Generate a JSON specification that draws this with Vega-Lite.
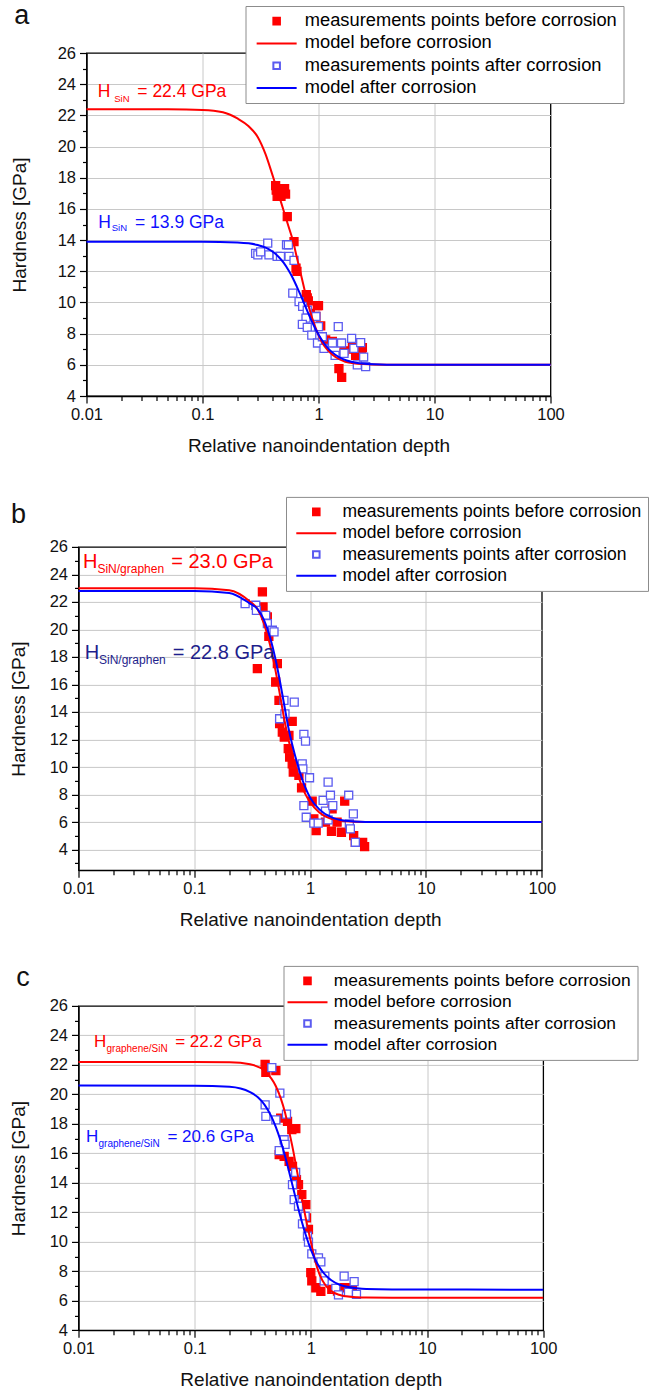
{
"$schema": "https://vega.github.io/schema/vega-lite/v6.json",
"padding": {"left": 7.5, "top": 0, "right": 0, "bottom": 0},
"background": "white",
"config": {
  "font": "Liberation Sans",
  "view": {"stroke": "#000", "strokeWidth": 1.3},
  "axis": {"domainColor": "#000", "domainWidth": 1.3, "tickColor": "#000", "tickWidth": 1.2, "labelColor": "#111", "titleColor": "#111", "labelFontSize": 16.5, "titleFontSize": 19, "titleFontWeight": "normal", "labelFlush": false, "labelOverlap": false, "gridColor": "#c8c8c8", "gridWidth": 1},
  "legend": {"labelFontSize": 17.5, "labelColor": "#000", "labelLimit": 500, "symbolSize": 256, "symbolStrokeWidth": 2, "symbolOpacity": 1, "padding": 6, "rowPadding": 3.3, "strokeColor": "#8c8c8c", "fillColor": "#ffffff", "cornerRadius": 0},
  "title": {"fontSize": 27, "fontWeight": "normal", "anchor": "start", "frame": "bounds", "color": "#111"}
},
"datasets": {
  "apts": [
    {"s":"pb","x":0.427,"y":17.5},{"s":"pb","x":0.432,"y":17.2},{"s":"pb","x":0.44,"y":16.8},{"s":"pb","x":0.475,"y":16.8},{"s":"pb","x":0.51,"y":17.3},{"s":"pb","x":0.52,"y":16.95},{"s":"pb","x":0.538,"y":15.5},{"s":"pb","x":0.615,"y":13.9},{"s":"pb","x":0.64,"y":12.2},{"s":"pb","x":0.652,"y":12.0},{"s":"pb","x":0.785,"y":10.5},{"s":"pb","x":0.8,"y":10.3},{"s":"pb","x":0.817,"y":10.1},{"s":"pb","x":0.977,"y":9.8},{"s":"pb","x":1.0,"y":9.8},{"s":"pb","x":0.85,"y":9.3},{"s":"pb","x":0.95,"y":9.1},{"s":"pb","x":1.045,"y":8.5},{"s":"pb","x":1.153,"y":7.6},{"s":"pb","x":1.316,"y":7.5},{"s":"pb","x":1.5,"y":5.75},{"s":"pb","x":1.584,"y":5.2},{"s":"pb","x":1.66,"y":6.9},{"s":"pb","x":1.96,"y":7.3},{"s":"pb","x":2.0,"y":7.0},{"s":"pb","x":2.09,"y":6.6},{"s":"pb","x":2.25,"y":6.9},{"s":"pb","x":2.39,"y":7.1},{"s":"pb","x":2.35,"y":6.8},
    {"s":"pa","x":0.287,"y":13.15},{"s":"pa","x":0.3,"y":13.05},{"s":"pa","x":0.317,"y":13.25},{"s":"pa","x":0.365,"y":13.8},{"s":"pa","x":0.374,"y":13.05},{"s":"pa","x":0.44,"y":12.95},{"s":"pa","x":0.47,"y":12.95},{"s":"pa","x":0.53,"y":13.7},{"s":"pa","x":0.55,"y":13.7},{"s":"pa","x":0.557,"y":12.95},{"s":"pa","x":0.615,"y":12.7},{"s":"pa","x":0.6,"y":10.6},{"s":"pa","x":0.68,"y":10.05},{"s":"pa","x":0.73,"y":9.75},{"s":"pa","x":0.8,"y":9.5},{"s":"pa","x":0.78,"y":9.0},{"s":"pa","x":0.726,"y":8.6},{"s":"pa","x":0.8,"y":8.4},{"s":"pa","x":0.95,"y":9.1},{"s":"pa","x":0.875,"y":7.9},{"s":"pa","x":1.0,"y":8.45},{"s":"pa","x":0.98,"y":7.4},{"s":"pa","x":1.08,"y":7.8},{"s":"pa","x":1.115,"y":7.06},{"s":"pa","x":1.32,"y":7.4},{"s":"pa","x":1.39,"y":6.6},{"s":"pa","x":1.48,"y":8.45},{"s":"pa","x":1.58,"y":7.4},{"s":"pa","x":1.66,"y":6.74},{"s":"pa","x":1.93,"y":7.7},{"s":"pa","x":2.02,"y":7.06},{"s":"pa","x":2.16,"y":6.0},{"s":"pa","x":2.31,"y":7.42},{"s":"pa","x":2.45,"y":6.5},{"s":"pa","x":2.55,"y":5.88}
  ],
  "amod": [
    {"s":"mb","x":0.01,"y":22.4},{"s":"mb","x":0.05,"y":22.39},{"s":"mb","x":0.1,"y":22.35},{"s":"mb","x":0.15,"y":22.2},{"s":"mb","x":0.2,"y":21.8},{"s":"mb","x":0.25,"y":21.3},{"s":"mb","x":0.3,"y":20.6},{"s":"mb","x":0.35,"y":19.5},{"s":"mb","x":0.4,"y":18.2},{"s":"mb","x":0.45,"y":17.0},{"s":"mb","x":0.5,"y":15.9},{"s":"mb","x":0.55,"y":14.9},{"s":"mb","x":0.6,"y":14.0},{"s":"mb","x":0.65,"y":12.9},{"s":"mb","x":0.7,"y":11.9},{"s":"mb","x":0.8,"y":10.1},{"s":"mb","x":0.9,"y":8.8},{"s":"mb","x":1.0,"y":7.9},{"s":"mb","x":1.1,"y":7.3},{"s":"mb","x":1.2,"y":6.95},{"s":"mb","x":1.4,"y":6.5},{"s":"mb","x":1.7,"y":6.2},{"s":"mb","x":2,"y":6.1},{"s":"mb","x":3,"y":6.02},{"s":"mb","x":5,"y":6.0},{"s":"mb","x":100,"y":6.0},
    {"s":"ma","x":0.01,"y":13.9},{"s":"ma","x":0.1,"y":13.9},{"s":"ma","x":0.2,"y":13.85},{"s":"ma","x":0.25,"y":13.79},{"s":"ma","x":0.3,"y":13.68},{"s":"ma","x":0.35,"y":13.52},{"s":"ma","x":0.4,"y":13.27},{"s":"ma","x":0.45,"y":12.95},{"s":"ma","x":0.5,"y":12.55},{"s":"ma","x":0.55,"y":12.08},{"s":"ma","x":0.6,"y":11.57},{"s":"ma","x":0.65,"y":11.02},{"s":"ma","x":0.7,"y":10.48},{"s":"ma","x":0.75,"y":9.95},{"s":"ma","x":0.8,"y":9.46},{"s":"ma","x":0.9,"y":8.6},{"s":"ma","x":1.0,"y":7.94},{"s":"ma","x":1.1,"y":7.45},{"s":"ma","x":1.2,"y":7.09},{"s":"ma","x":1.3,"y":6.83},{"s":"ma","x":1.5,"y":6.5},{"s":"ma","x":1.75,"y":6.28},{"s":"ma","x":2,"y":6.17},{"s":"ma","x":3,"y":6.04},{"s":"ma","x":5,"y":6.0},{"s":"ma","x":100,"y":6.0}
  ],
  "aann": [
    {"k":"m","c":"r","x":0.01249,"y":23.19,"t":"H"},{"k":"s","c":"r","x":0.01734,"y":22.87,"t":"SiN"},{"k":"m","c":"r","x":0.02741,"y":23.19,"t":"= 22.4 GPa"},
    {"k":"m","c":"b","x":0.01264,"y":14.75,"t":"H"},{"k":"s","c":"b","x":0.01649,"y":14.6,"t":"SiN"},{"k":"m","c":"b","x":0.02618,"y":14.75,"t":"= 13.9 GPa"}
  ],
  "bpts": [
    {"s":"pb","x":0.387,"y":22.73},{"s":"pb","x":0.392,"y":21.64},{"s":"pb","x":0.427,"y":20.91},{"s":"pb","x":0.35,"y":17.15},{"s":"pb","x":0.44,"y":19.5},{"s":"pb","x":0.521,"y":17.51},{"s":"pb","x":0.504,"y":16.18},{"s":"pb","x":0.538,"y":14.84},{"s":"pb","x":0.545,"y":13.15},{"s":"pb","x":0.575,"y":12.54},{"s":"pb","x":0.598,"y":12.18},{"s":"pb","x":0.656,"y":12.3},{"s":"pb","x":0.7,"y":13.32},{"s":"pb","x":0.647,"y":11.33},{"s":"pb","x":0.665,"y":10.72},{"s":"pb","x":0.7,"y":10.23},{"s":"pb","x":0.715,"y":9.63},{"s":"pb","x":0.8,"y":9.39},{"s":"pb","x":0.843,"y":8.49},{"s":"pb","x":1.041,"y":7.52},{"s":"pb","x":1.076,"y":6.23},{"s":"pb","x":1.127,"y":5.38},{"s":"pb","x":1.356,"y":5.99},{"s":"pb","x":1.527,"y":5.33},{"s":"pb","x":1.708,"y":5.99},{"s":"pb","x":1.861,"y":5.26},{"s":"pb","x":1.988,"y":7.52},{"s":"pb","x":2.376,"y":5.02},{"s":"pb","x":2.455,"y":4.53},{"s":"pb","x":2.84,"y":4.53},{"s":"pb","x":2.953,"y":4.22},{"s":"pb","x":1.547,"y":6.96},
    {"s":"pa","x":0.2745,"y":21.88},{"s":"pa","x":0.339,"y":21.76},{"s":"pa","x":0.3435,"y":21.39},{"s":"pa","x":0.413,"y":21.03},{"s":"pa","x":0.427,"y":20.42},{"s":"pa","x":0.4717,"y":19.94},{"s":"pa","x":0.4875,"y":19.82},{"s":"pa","x":0.545,"y":13.51},{"s":"pa","x":0.594,"y":14.84},{"s":"pa","x":0.606,"y":13.87},{"s":"pa","x":0.729,"y":14.72},{"s":"pa","x":0.883,"y":12.37},{"s":"pa","x":0.912,"y":11.88},{"s":"pa","x":0.854,"y":10.23},{"s":"pa","x":0.865,"y":9.87},{"s":"pa","x":0.988,"y":9.22},{"s":"pa","x":0.883,"y":7.2},{"s":"pa","x":0.925,"y":6.35},{"s":"pa","x":1.076,"y":5.92},{"s":"pa","x":1.173,"y":5.92},{"s":"pa","x":1.294,"y":7.57},{"s":"pa","x":1.356,"y":6.79},{"s":"pa","x":1.429,"y":8.9},{"s":"pa","x":1.497,"y":7.95},{"s":"pa","x":1.568,"y":7.2},{"s":"pa","x":1.429,"y":6.16},{"s":"pa","x":2.152,"y":7.95},{"s":"pa","x":2.18,"y":5.87},{"s":"pa","x":2.224,"y":5.5},{"s":"pa","x":2.36,"y":6.6},{"s":"pa","x":2.455,"y":4.53}
  ],
  "bmod": [
    {"s":"mb","x":0.01,"y":23.0},{"s":"mb","x":0.1,"y":22.99},{"s":"mb","x":0.2,"y":22.85},{"s":"mb","x":0.3,"y":22.05},{"s":"mb","x":0.35,"y":21.5},{"s":"mb","x":0.4,"y":20.4},{"s":"mb","x":0.45,"y":18.9},{"s":"mb","x":0.5,"y":17.1},{"s":"mb","x":0.55,"y":15.2},{"s":"mb","x":0.6,"y":13.4},{"s":"mb","x":0.65,"y":12.0},{"s":"mb","x":0.7,"y":10.9},{"s":"mb","x":0.8,"y":9.2},{"s":"mb","x":0.9,"y":8.1},{"s":"mb","x":1.0,"y":7.45},{"s":"mb","x":1.2,"y":6.7},{"s":"mb","x":1.5,"y":6.25},{"s":"mb","x":2,"y":6.06},{"s":"mb","x":3,"y":6.01},{"s":"mb","x":5,"y":6.0},{"s":"mb","x":100,"y":6.0},
    {"s":"ma","x":0.01,"y":22.8},{"s":"ma","x":0.1,"y":22.79},{"s":"ma","x":0.2,"y":22.65},{"s":"ma","x":0.3,"y":21.9},{"s":"ma","x":0.35,"y":21.5},{"s":"ma","x":0.4,"y":20.68},{"s":"ma","x":0.45,"y":19.44},{"s":"ma","x":0.5,"y":17.9},{"s":"ma","x":0.55,"y":16.18},{"s":"ma","x":0.6,"y":14.42},{"s":"ma","x":0.65,"y":12.84},{"s":"ma","x":0.7,"y":11.63},{"s":"ma","x":0.8,"y":9.86},{"s":"ma","x":0.9,"y":8.59},{"s":"ma","x":1.0,"y":7.77},{"s":"ma","x":1.2,"y":6.92},{"s":"ma","x":1.5,"y":6.37},{"s":"ma","x":2,"y":6.1},{"s":"ma","x":3,"y":6.01},{"s":"ma","x":5,"y":6.0},{"s":"ma","x":100,"y":6.0}
  ],
  "bann": [
    {"k":"m","c":"r","x":0.01095,"y":24.5,"t":"H"},{"k":"s","c":"r","x":0.01457,"y":24.09,"t":"SiN/graphen"},{"k":"m","c":"r","x":0.0631,"y":24.5,"t":"= 23.0 GPa"},
    {"k":"m","c":"n","x":0.01133,"y":17.88,"t":"H"},{"k":"s","c":"n","x":0.01504,"y":17.5,"t":"SiN/graphen"},{"k":"m","c":"n","x":0.0651,"y":17.88,"t":"= 22.8 GPa"}
  ],
  "cpts": [
    {"s":"pb","x":0.404,"y":22.04},{"s":"pb","x":0.41,"y":21.5},{"s":"pb","x":0.5,"y":21.61},{"s":"pb","x":0.55,"y":18.39},{"s":"pb","x":0.63,"y":18.16},{"s":"pb","x":0.686,"y":17.6},{"s":"pb","x":0.7425,"y":17.67},{"s":"pb","x":0.534,"y":15.91},{"s":"pb","x":0.589,"y":15.79},{"s":"pb","x":0.65,"y":15.45},{"s":"pb","x":0.695,"y":15.12},{"s":"pb","x":0.752,"y":14.21},{"s":"pb","x":0.783,"y":13.88},{"s":"pb","x":0.836,"y":13.2},{"s":"pb","x":0.905,"y":12.52},{"s":"pb","x":0.917,"y":11.62},{"s":"pb","x":0.954,"y":10.83},{"s":"pb","x":0.999,"y":7.9},{"s":"pb","x":1.019,"y":7.34},{"s":"pb","x":1.104,"y":6.88},{"s":"pb","x":1.219,"y":6.63},{"s":"pb","x":1.515,"y":6.77},{"s":"pb","x":1.695,"y":6.66},{"s":"pb","x":1.935,"y":6.88},{"s":"pb","x":2.28,"y":6.88},
    {"s":"pa","x":0.4615,"y":21.81},{"s":"pa","x":0.404,"y":19.29},{"s":"pa","x":0.41,"y":18.5},{"s":"pa","x":0.5,"y":18.27},{"s":"pa","x":0.541,"y":20.08},{"s":"pa","x":0.617,"y":18.66},{"s":"pa","x":0.589,"y":16.92},{"s":"pa","x":0.6,"y":16.6},{"s":"pa","x":0.534,"y":16.18},{"s":"pa","x":0.74,"y":14.7},{"s":"pa","x":0.695,"y":13.88},{"s":"pa","x":0.7183,"y":12.86},{"s":"pa","x":0.7826,"y":12.41},{"s":"pa","x":0.893,"y":11.73},{"s":"pa","x":0.847,"y":11.21},{"s":"pa","x":0.935,"y":10.38},{"s":"pa","x":0.954,"y":9.97},{"s":"pa","x":1.019,"y":9.18},{"s":"pa","x":1.163,"y":8.91},{"s":"pa","x":1.219,"y":8.64},{"s":"pa","x":1.319,"y":7.67},{"s":"pa","x":1.302,"y":7.34},{"s":"pa","x":1.64,"y":6.84},{"s":"pa","x":1.729,"y":6.39},{"s":"pa","x":1.935,"y":7.67},{"s":"pa","x":2.108,"y":6.57},{"s":"pa","x":2.358,"y":7.29},{"s":"pa","x":2.47,"y":6.43}
  ],
  "cmod": [
    {"s":"mb","x":0.01,"y":22.2},{"s":"mb","x":0.1,"y":22.2},{"s":"mb","x":0.2,"y":22.18},{"s":"mb","x":0.3,"y":22.04},{"s":"mb","x":0.4,"y":21.59},{"s":"mb","x":0.5,"y":20.55},{"s":"mb","x":0.55,"y":19.74},{"s":"mb","x":0.6,"y":18.75},{"s":"mb","x":0.65,"y":17.5},{"s":"mb","x":0.7,"y":16.3},{"s":"mb","x":0.75,"y":15.05},{"s":"mb","x":0.8,"y":13.84},{"s":"mb","x":0.85,"y":12.69},{"s":"mb","x":0.9,"y":11.67},{"s":"mb","x":1.0,"y":10.0},{"s":"mb","x":1.1,"y":8.6},{"s":"mb","x":1.2,"y":7.7},{"s":"mb","x":1.35,"y":7.0},{"s":"mb","x":1.5,"y":6.65},{"s":"mb","x":1.75,"y":6.4},{"s":"mb","x":2,"y":6.3},{"s":"mb","x":2.5,"y":6.23},{"s":"mb","x":3,"y":6.21},{"s":"mb","x":5,"y":6.2},{"s":"mb","x":100,"y":6.2},
    {"s":"ma","x":0.01,"y":20.6},{"s":"ma","x":0.1,"y":20.59},{"s":"ma","x":0.2,"y":20.51},{"s":"ma","x":0.3,"y":20.15},{"s":"ma","x":0.35,"y":19.8},{"s":"ma","x":0.4,"y":19.29},{"s":"ma","x":0.45,"y":18.61},{"s":"ma","x":0.5,"y":17.78},{"s":"ma","x":0.55,"y":16.83},{"s":"ma","x":0.6,"y":15.8},{"s":"ma","x":0.65,"y":14.75},{"s":"ma","x":0.7,"y":13.73},{"s":"ma","x":0.8,"y":11.92},{"s":"ma","x":0.9,"y":10.51},{"s":"ma","x":1.0,"y":9.47},{"s":"ma","x":1.1,"y":8.73},{"s":"ma","x":1.2,"y":8.21},{"s":"ma","x":1.35,"y":7.7},{"s":"ma","x":1.5,"y":7.39},{"s":"ma","x":1.75,"y":7.1},{"s":"ma","x":2,"y":6.96},{"s":"ma","x":2.5,"y":6.84},{"s":"ma","x":3,"y":6.79},{"s":"ma","x":5,"y":6.76},{"s":"ma","x":100,"y":6.75}
  ],
  "cann": [
    {"k":"m","c":"r","x":0.01362,"y":23.24,"t":"H"},{"k":"s","c":"r","x":0.01742,"y":22.9,"t":"graphene/SiN"},{"k":"m","c":"r","x":0.06796,"y":23.24,"t":"= 22.2 GPa"},
    {"k":"m","c":"b","x":0.01158,"y":16.76,"t":"H"},{"k":"s","c":"b","x":0.01486,"y":16.4,"t":"graphene/SiN"},{"k":"m","c":"b","x":0.0583,"y":16.76,"t":"= 20.6 GPa"}
  ]
},
"spacing": 37.9,
"resolve": {"scale": {"shape": "independent", "fill": "independent", "stroke": "independent"}, "legend": {"shape": "independent", "fill": "independent", "stroke": "independent"}},
"vconcat": [
{
  "spacing": -70,
  "resolve": {"scale": {"shape": "independent", "fill": "independent", "stroke": "independent"}, "legend": {"shape": "independent", "fill": "independent", "stroke": "independent"}},
  "hconcat": [
  {
    "width": 1, "height": 1, "view": {"stroke": null},
    "data": {"values": []},
    "mark": {"type": "point", "opacity": 0},
    "encoding": {}
  },
  {
  "width": 464, "height": 343,
  "title": {"text": "a", "offset": -24, "dx": 3.5},
  "layer": [
    {"data": {"name": "apts"},
     "mark": {"type": "point", "size": 380, "strokeWidth": 1.3, "opacity": 1},
     "encoding": {
       "x": {"field": "x", "type": "quantitative", "scale": {"type": "log", "domain": [0.01, 100], "nice": false}, "axis": {"orient": "bottom", "values": [0.02,0.03,0.04,0.05,0.06,0.07,0.08,0.09,0.2,0.3,0.4,0.5,0.6,0.7,0.8,0.9,2,3,4,5,6,7,8,9,20,30,40,50,60,70,80,90], "labels": false, "domain": false, "grid": false, "tickSize": 4.5, "title": null}},
       "y": {"field": "y", "type": "quantitative", "scale": {"domain": [4, 26], "nice": false, "zero": false}, "axis": {"orient": "left", "values": [5,7,9,11,13,15,17,19,21,23,25], "labels": false, "domain": false, "grid": false, "tickSize": 4, "title": null}},
       "shape": {"field": "s", "type": "nominal", "scale": {"domain": ["pb","mb","pa","ma"], "range": ["M-0.41,-0.41H0.41V0.41H-0.41Z","M-2.5,0H2.5","M-0.41,-0.41H0.41V0.41H-0.41Z","M-2.5,0H2.5"]}, "legend": {"orient": "none", "legendX": 159, "legendY": -47, "title": null, "labelFontSize": 18.3, "symbolOffset": 16, "labelOffset": 19, "labelExpr": "datum.label=='pb'?'measurements points before corrosion':datum.label=='mb'?'model before corrosion':datum.label=='pa'?'measurements points after corrosion':'model after corrosion'"}},
       "fill": {"field": "s", "type": "nominal", "scale": {"domain": ["pb","mb","pa","ma"], "range": ["#ff0000","transparent","#ffffff","transparent"]}, "legend": {"orient": "none", "legendX": 159, "legendY": -47, "title": null, "labelFontSize": 18.3, "symbolOffset": 16, "labelOffset": 19, "labelExpr": "datum.label=='pb'?'measurements points before corrosion':datum.label=='mb'?'model before corrosion':datum.label=='pa'?'measurements points after corrosion':'model after corrosion'"}},
       "stroke": {"field": "s", "type": "nominal", "scale": {"domain": ["pb","mb","pa","ma"], "range": ["#ff0000","#ff0000","#5b5bf0","#0000ff"]}, "legend": {"orient": "none", "legendX": 159, "legendY": -47, "title": null, "labelFontSize": 18.3, "symbolOffset": 16, "labelOffset": 19, "labelExpr": "datum.label=='pb'?'measurements points before corrosion':datum.label=='mb'?'model before corrosion':datum.label=='pa'?'measurements points after corrosion':'model after corrosion'"}}
     }},
    {"data": {"name": "amod"},
     "mark": {"type": "line", "strokeWidth": 2, "interpolate": "monotone"},
     "encoding": {
       "x": {"field": "x", "type": "quantitative", "scale": {"type": "log", "domain": [0.01, 100], "nice": false}, "axis": {"orient": "bottom", "values": [0.01,0.1,1,10,100], "format": "~g", "grid": false, "tickSize": 7, "labelPadding": 3, "title": "Relative nanoindentation depth", "titlePadding": 14}},
       "y": {"field": "y", "type": "quantitative", "scale": {"domain": [4, 26], "nice": false, "zero": false}, "axis": {"orient": "left", "values": [4,6,8,10,12,14,16,18,20,22,24,26], "grid": false, "tickSize": 7, "labelPadding": 4, "title": "Hardness [GPa]", "titlePadding": 27.3}},
       "stroke": {"field": "s", "type": "nominal", "scale": {"domain": ["pb","mb","pa","ma"], "range": ["#ff0000","#ff0000","#5b5bf0","#0000ff"]}, "legend": {"orient": "none", "legendX": 159, "legendY": -47, "title": null, "labelFontSize": 18.3, "symbolOffset": 16, "labelOffset": 19, "labelExpr": "datum.label=='pb'?'measurements points before corrosion':datum.label=='mb'?'model before corrosion':datum.label=='pa'?'measurements points after corrosion':'model after corrosion'"}}
     }},
    {"data": {"name": "aann"}, "transform": [{"filter": "datum.k=='m'"}],
     "mark": {"type": "text", "align": "left", "baseline": "alphabetic", "fontSize": 17.5},
     "encoding": {
       "x": {"field": "x", "type": "quantitative", "scale": {"type": "log", "domain": [0.01, 100], "nice": false}, "axis": {"orient": "bottom", "values": [0.1,1,10], "labels": false, "domain": false, "ticks": false, "grid": true, "title": null}},
       "y": {"field": "y", "type": "quantitative", "scale": {"domain": [4, 26], "nice": false, "zero": false}, "axis": {"orient": "left", "values": [6,8,10,12,14,16,18,20,22,24], "labels": false, "domain": false, "ticks": false, "grid": true, "title": null}},
       "text": {"field": "t"},
       "color": {"field": "c", "type": "nominal", "scale": {"domain": ["r","b","n"], "range": ["#ff0000","#1010ff","#1e1e8c"]}, "legend": null}
     }},
    {"data": {"name": "aann"}, "transform": [{"filter": "datum.k=='s'"}],
     "mark": {"type": "text", "align": "left", "baseline": "alphabetic", "fontSize": 9.5},
     "encoding": {
       "x": {"field": "x", "type": "quantitative", "scale": {"type": "log", "domain": [0.01, 100], "nice": false}, "axis": null},
       "y": {"field": "y", "type": "quantitative", "scale": {"domain": [4, 26], "nice": false, "zero": false}, "axis": null},
       "text": {"field": "t"},
       "color": {"field": "c", "type": "nominal", "scale": {"domain": ["r","b","n"], "range": ["#ff0000","#1010ff","#1e1e8c"]}, "legend": null}
     }}
  ],
  "resolve": {"axis": {"x": "independent", "y": "independent"}}
  }
  ]
},
{
  "spacing": 32,
  "resolve": {"scale": {"shape": "independent", "fill": "independent", "stroke": "independent"}, "legend": {"shape": "independent", "fill": "independent", "stroke": "independent"}},
  "vconcat": [
  {
    "width": 463.3, "height": 323.3,
    "title": {"text": "b", "offset": -33, "dx": 1.2},
    "layer": [
      {"data": {"name": "bpts"},
       "mark": {"type": "point", "size": 380, "strokeWidth": 1.3, "opacity": 1},
       "encoding": {
         "x": {"field": "x", "type": "quantitative", "scale": {"type": "log", "domain": [0.01, 100], "nice": false}, "axis": {"orient": "bottom", "values": [0.02,0.03,0.04,0.05,0.06,0.07,0.08,0.09,0.2,0.3,0.4,0.5,0.6,0.7,0.8,0.9,2,3,4,5,6,7,8,9,20,30,40,50,60,70,80,90], "labels": false, "domain": false, "grid": false, "tickSize": 4.5, "title": null}},
         "y": {"field": "y", "type": "quantitative", "scale": {"domain": [2.5, 26], "nice": false, "zero": false}, "axis": {"orient": "left", "values": [3,5,7,9,11,13,15,17,19,21,23,25], "labels": false, "domain": false, "grid": false, "tickSize": 4, "title": null}},
         "shape": {"field": "s", "type": "nominal", "scale": {"domain": ["pb","mb","pa","ma"], "range": ["M-0.41,-0.41H0.41V0.41H-0.41Z","M-2.5,0H2.5","M-0.41,-0.41H0.41V0.41H-0.41Z","M-2.5,0H2.5"]}, "legend": {"orient": "none", "legendX": 207.5, "legendY": -50, "title": null, "labelFontSize": 17.5, "symbolOffset": 15.3, "labelOffset": 17.2, "labelExpr": "datum.label=='pb'?'measurements points before corrosion':datum.label=='mb'?'model before corrosion':datum.label=='pa'?'measurements points after corrosion':'model after corrosion'"}},
         "fill": {"field": "s", "type": "nominal", "scale": {"domain": ["pb","mb","pa","ma"], "range": ["#ff0000","transparent","#ffffff","transparent"]}, "legend": {"orient": "none", "legendX": 207.5, "legendY": -50, "title": null, "labelFontSize": 17.5, "symbolOffset": 15.3, "labelOffset": 17.2, "labelExpr": "datum.label=='pb'?'measurements points before corrosion':datum.label=='mb'?'model before corrosion':datum.label=='pa'?'measurements points after corrosion':'model after corrosion'"}},
         "stroke": {"field": "s", "type": "nominal", "scale": {"domain": ["pb","mb","pa","ma"], "range": ["#ff0000","#ff0000","#5b5bf0","#0000ff"]}, "legend": {"orient": "none", "legendX": 207.5, "legendY": -50, "title": null, "labelFontSize": 17.5, "symbolOffset": 15.3, "labelOffset": 17.2, "labelExpr": "datum.label=='pb'?'measurements points before corrosion':datum.label=='mb'?'model before corrosion':datum.label=='pa'?'measurements points after corrosion':'model after corrosion'"}}
       }},
      {"data": {"name": "bmod"},
       "mark": {"type": "line", "strokeWidth": 2, "interpolate": "monotone"},
       "encoding": {
         "x": {"field": "x", "type": "quantitative", "scale": {"type": "log", "domain": [0.01, 100], "nice": false}, "axis": {"orient": "bottom", "values": [0.01,0.1,1,10,100], "format": "~g", "grid": false, "tickSize": 7, "labelPadding": 3, "title": "Relative nanoindentation depth", "titlePadding": 14}},
         "y": {"field": "y", "type": "quantitative", "scale": {"domain": [2.5, 26], "nice": false, "zero": false}, "axis": {"orient": "left", "values": [4,6,8,10,12,14,16,18,20,22,24,26], "grid": false, "tickSize": 7, "labelPadding": 4, "title": "Hardness [GPa]", "titlePadding": 20.3}},
         "stroke": {"field": "s", "type": "nominal", "scale": {"domain": ["pb","mb","pa","ma"], "range": ["#ff0000","#ff0000","#5b5bf0","#0000ff"]}, "legend": {"orient": "none", "legendX": 207.5, "legendY": -50, "title": null, "labelFontSize": 17.5, "symbolOffset": 15.3, "labelOffset": 17.2, "labelExpr": "datum.label=='pb'?'measurements points before corrosion':datum.label=='mb'?'model before corrosion':datum.label=='pa'?'measurements points after corrosion':'model after corrosion'"}}
       }},
      {"data": {"name": "bann"}, "transform": [{"filter": "datum.k=='m'"}],
       "mark": {"type": "text", "align": "left", "baseline": "alphabetic", "fontSize": 20},
       "encoding": {
         "x": {"field": "x", "type": "quantitative", "scale": {"type": "log", "domain": [0.01, 100], "nice": false}, "axis": {"orient": "bottom", "values": [0.1,1,10], "labels": false, "domain": false, "ticks": false, "grid": true, "title": null}},
         "y": {"field": "y", "type": "quantitative", "scale": {"domain": [2.5, 26], "nice": false, "zero": false}, "axis": {"orient": "left", "values": [4,6,8,10,12,14,16,18,20,22,24], "labels": false, "domain": false, "ticks": false, "grid": true, "title": null}},
         "text": {"field": "t"},
         "color": {"field": "c", "type": "nominal", "scale": {"domain": ["r","b","n"], "range": ["#ff0000","#1010ff","#1e1e8c"]}, "legend": null}
       }},
      {"data": {"name": "bann"}, "transform": [{"filter": "datum.k=='s'"}],
       "mark": {"type": "text", "align": "left", "baseline": "alphabetic", "fontSize": 12},
       "encoding": {
         "x": {"field": "x", "type": "quantitative", "scale": {"type": "log", "domain": [0.01, 100], "nice": false}, "axis": null},
         "y": {"field": "y", "type": "quantitative", "scale": {"domain": [2.5, 26], "nice": false, "zero": false}, "axis": null},
         "text": {"field": "t"},
         "color": {"field": "c", "type": "nominal", "scale": {"domain": ["r","b","n"], "range": ["#ff0000","#1010ff","#1e1e8c"]}, "legend": null}
       }}
    ],
    "resolve": {"axis": {"x": "independent", "y": "independent"}}
  },
  {
    "width": 464.7, "height": 324.3,
    "title": {"text": "c", "offset": -26.3, "dx": 7.2},
    "layer": [
      {"data": {"name": "cpts"},
       "mark": {"type": "point", "size": 380, "strokeWidth": 1.3, "opacity": 1},
       "encoding": {
         "x": {"field": "x", "type": "quantitative", "scale": {"type": "log", "domain": [0.01, 100], "nice": false}, "axis": {"orient": "bottom", "values": [0.02,0.03,0.04,0.05,0.06,0.07,0.08,0.09,0.2,0.3,0.4,0.5,0.6,0.7,0.8,0.9,2,3,4,5,6,7,8,9,20,30,40,50,60,70,80,90], "labels": false, "domain": false, "grid": false, "tickSize": 4.5, "title": null}},
         "y": {"field": "y", "type": "quantitative", "scale": {"domain": [4, 26], "nice": false, "zero": false}, "axis": {"orient": "left", "values": [5,7,9,11,13,15,17,19,21,23,25], "labels": false, "domain": false, "grid": false, "tickSize": 4, "title": null}},
         "shape": {"field": "s", "type": "nominal", "scale": {"domain": ["pb","mb","pa","ma"], "range": ["M-0.41,-0.41H0.41V0.41H-0.41Z","M-2.5,0H2.5","M-0.41,-0.41H0.41V0.41H-0.41Z","M-2.5,0H2.5"]}, "legend": {"orient": "none", "legendX": 205, "legendY": -40, "title": null, "labelFontSize": 17.4, "symbolOffset": 9, "labelOffset": 17.3, "labelExpr": "datum.label=='pb'?'measurements points before corrosion':datum.label=='mb'?'model before corrosion':datum.label=='pa'?'measurements points after corrosion':'model after corrosion'"}},
         "fill": {"field": "s", "type": "nominal", "scale": {"domain": ["pb","mb","pa","ma"], "range": ["#ff0000","transparent","#ffffff","transparent"]}, "legend": {"orient": "none", "legendX": 205, "legendY": -40, "title": null, "labelFontSize": 17.4, "symbolOffset": 9, "labelOffset": 17.3, "labelExpr": "datum.label=='pb'?'measurements points before corrosion':datum.label=='mb'?'model before corrosion':datum.label=='pa'?'measurements points after corrosion':'model after corrosion'"}},
         "stroke": {"field": "s", "type": "nominal", "scale": {"domain": ["pb","mb","pa","ma"], "range": ["#ff0000","#ff0000","#5b5bf0","#0000ff"]}, "legend": {"orient": "none", "legendX": 205, "legendY": -40, "title": null, "labelFontSize": 17.4, "symbolOffset": 9, "labelOffset": 17.3, "labelExpr": "datum.label=='pb'?'measurements points before corrosion':datum.label=='mb'?'model before corrosion':datum.label=='pa'?'measurements points after corrosion':'model after corrosion'"}}
       }},
      {"data": {"name": "cmod"},
       "mark": {"type": "line", "strokeWidth": 2, "interpolate": "monotone"},
       "encoding": {
         "x": {"field": "x", "type": "quantitative", "scale": {"type": "log", "domain": [0.01, 100], "nice": false}, "axis": {"orient": "bottom", "values": [0.01,0.1,1,10,100], "format": "~g", "grid": false, "tickSize": 7, "labelPadding": 3, "title": "Relative nanoindentation depth", "titlePadding": 14}},
         "y": {"field": "y", "type": "quantitative", "scale": {"domain": [4, 26], "nice": false, "zero": false}, "axis": {"orient": "left", "values": [4,6,8,10,12,14,16,18,20,22,24,26], "grid": false, "tickSize": 7, "labelPadding": 4, "title": "Hardness [GPa]", "titlePadding": 21}},
         "stroke": {"field": "s", "type": "nominal", "scale": {"domain": ["pb","mb","pa","ma"], "range": ["#ff0000","#ff0000","#5b5bf0","#0000ff"]}, "legend": {"orient": "none", "legendX": 205, "legendY": -40, "title": null, "labelFontSize": 17.4, "symbolOffset": 9, "labelOffset": 17.3, "labelExpr": "datum.label=='pb'?'measurements points before corrosion':datum.label=='mb'?'model before corrosion':datum.label=='pa'?'measurements points after corrosion':'model after corrosion'"}}
       }},
      {"data": {"name": "cann"}, "transform": [{"filter": "datum.k=='m'"}],
       "mark": {"type": "text", "align": "left", "baseline": "alphabetic", "fontSize": 17},
       "encoding": {
         "x": {"field": "x", "type": "quantitative", "scale": {"type": "log", "domain": [0.01, 100], "nice": false}, "axis": {"orient": "bottom", "values": [0.1,1,10], "labels": false, "domain": false, "ticks": false, "grid": true, "title": null}},
         "y": {"field": "y", "type": "quantitative", "scale": {"domain": [4, 26], "nice": false, "zero": false}, "axis": {"orient": "left", "values": [6,8,10,12,14,16,18,20,22,24], "labels": false, "domain": false, "ticks": false, "grid": true, "title": null}},
         "text": {"field": "t"},
         "color": {"field": "c", "type": "nominal", "scale": {"domain": ["r","b","n"], "range": ["#ff0000","#1010ff","#1e1e8c"]}, "legend": null}
       }},
      {"data": {"name": "cann"}, "transform": [{"filter": "datum.k=='s'"}],
       "mark": {"type": "text", "align": "left", "baseline": "alphabetic", "fontSize": 10},
       "encoding": {
         "x": {"field": "x", "type": "quantitative", "scale": {"type": "log", "domain": [0.01, 100], "nice": false}, "axis": null},
         "y": {"field": "y", "type": "quantitative", "scale": {"domain": [4, 26], "nice": false, "zero": false}, "axis": null},
         "text": {"field": "t"},
         "color": {"field": "c", "type": "nominal", "scale": {"domain": ["r","b","n"], "range": ["#ff0000","#1010ff","#1e1e8c"]}, "legend": null}
       }}
    ],
    "resolve": {"axis": {"x": "independent", "y": "independent"}}
  }
  ]
}
]
}
